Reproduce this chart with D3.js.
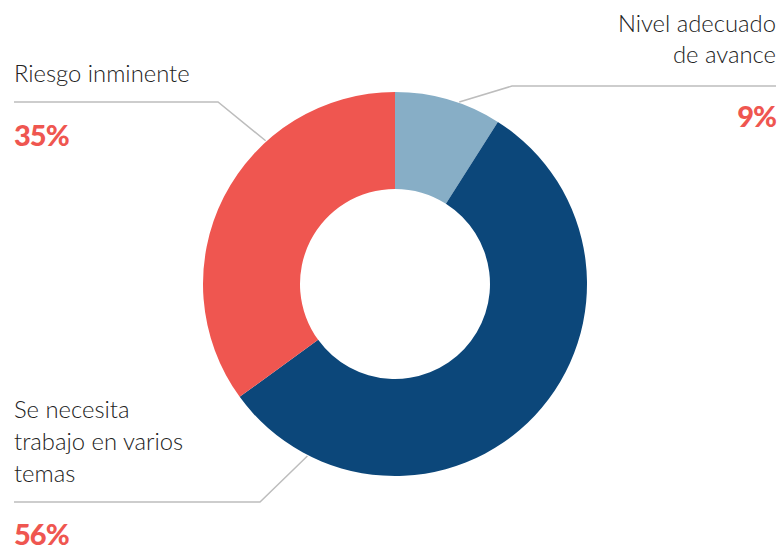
<!DOCTYPE html>
<html>
<head>
<meta charset="utf-8">
<script src="https://cdn.jsdelivr.net/npm/d3@7"></script>
<style>
  body { margin: 0; background: #fff; }
  svg text { font-family: Lato, "Open Sans", sans-serif; }
</style>
</head>
<body>
<svg id="chart" width="780" height="548"></svg>
<script>
const categories = ["Nivel adecuado de avance", "Se necesita trabajo en varios temas", "Riesgo inminente"];
const values = [9, 56, 35];
const colors = ["#87aec6", "#0c477a", "#ef5650"];

// label lines as shown in the original
const labelLines = [
  ["Nivel adecuado", "de avance"],
  ["Se necesita", "trabajo en varios", "temas"],
  ["Riesgo inminente"],
];

const width = 780, height = 548;
const cx = 395, cy = 284;
const outerR = 192, innerR = 95;

const svg = d3.select("#chart");

const pie = d3.pie().sort(null).value((d) => d)(values);
const arc = d3.arc().innerRadius(innerR).outerRadius(outerR);

const g = svg.append("g").attr("transform", `translate(${cx},${cy})`);

g.selectAll("path.slice")
  .data(pie)
  .join("path")
  .attr("class", "slice")
  .attr("d", arc)
  .attr("fill", (d, i) => colors[i]);

// where the leader touches the ring (fraction of slice), elbow and label anchor
const layout = [
  { t: 0.6, elbow: [512, 86], end: [776, 86], anchor: "end", x: 776, lines: [32, 63], pctY: 127 },
  { t: 0.866, elbow: [260, 502], end: [14, 502], anchor: "start", x: 14, lines: [418, 450, 482], pctY: 545 },
  { t: 0.666, elbow: [218, 102], end: [14, 102], anchor: "start", x: 14, lines: [82], pctY: 146 },
];

pie.forEach((d, i) => {
  const L = layout[i];
  const a = d.startAngle + (d.endAngle - d.startAngle) * L.t;
  const px = cx + (outerR + 1) * Math.sin(a);
  const py = cy - (outerR + 1) * Math.cos(a);

  svg.append("path")
    .attr("d", d3.line()([[px, py], L.elbow, L.end]))
    .attr("fill", "none")
    .attr("stroke", "#bdbdbd")
    .attr("stroke-width", 1.5);

  labelLines[i].forEach((txt, j) => {
    svg.append("text")
      .attr("x", L.x)
      .attr("y", L.lines[j])
      .attr("text-anchor", L.anchor)
      .attr("fill", "#222")
      .attr("font-size", 23.8)
      .attr("font-weight", 300)
      .text(txt);
  });

  svg.append("text")
    .attr("x", L.x)
    .attr("y", L.pctY)
    .attr("text-anchor", L.anchor)
    .attr("fill", "#ef5650")
    .attr("font-size", 29)
    .attr("font-weight", 900)
    .attr("letter-spacing", -1)
    .text(values[i] + "%");
});
</script>
</body>
</html>
